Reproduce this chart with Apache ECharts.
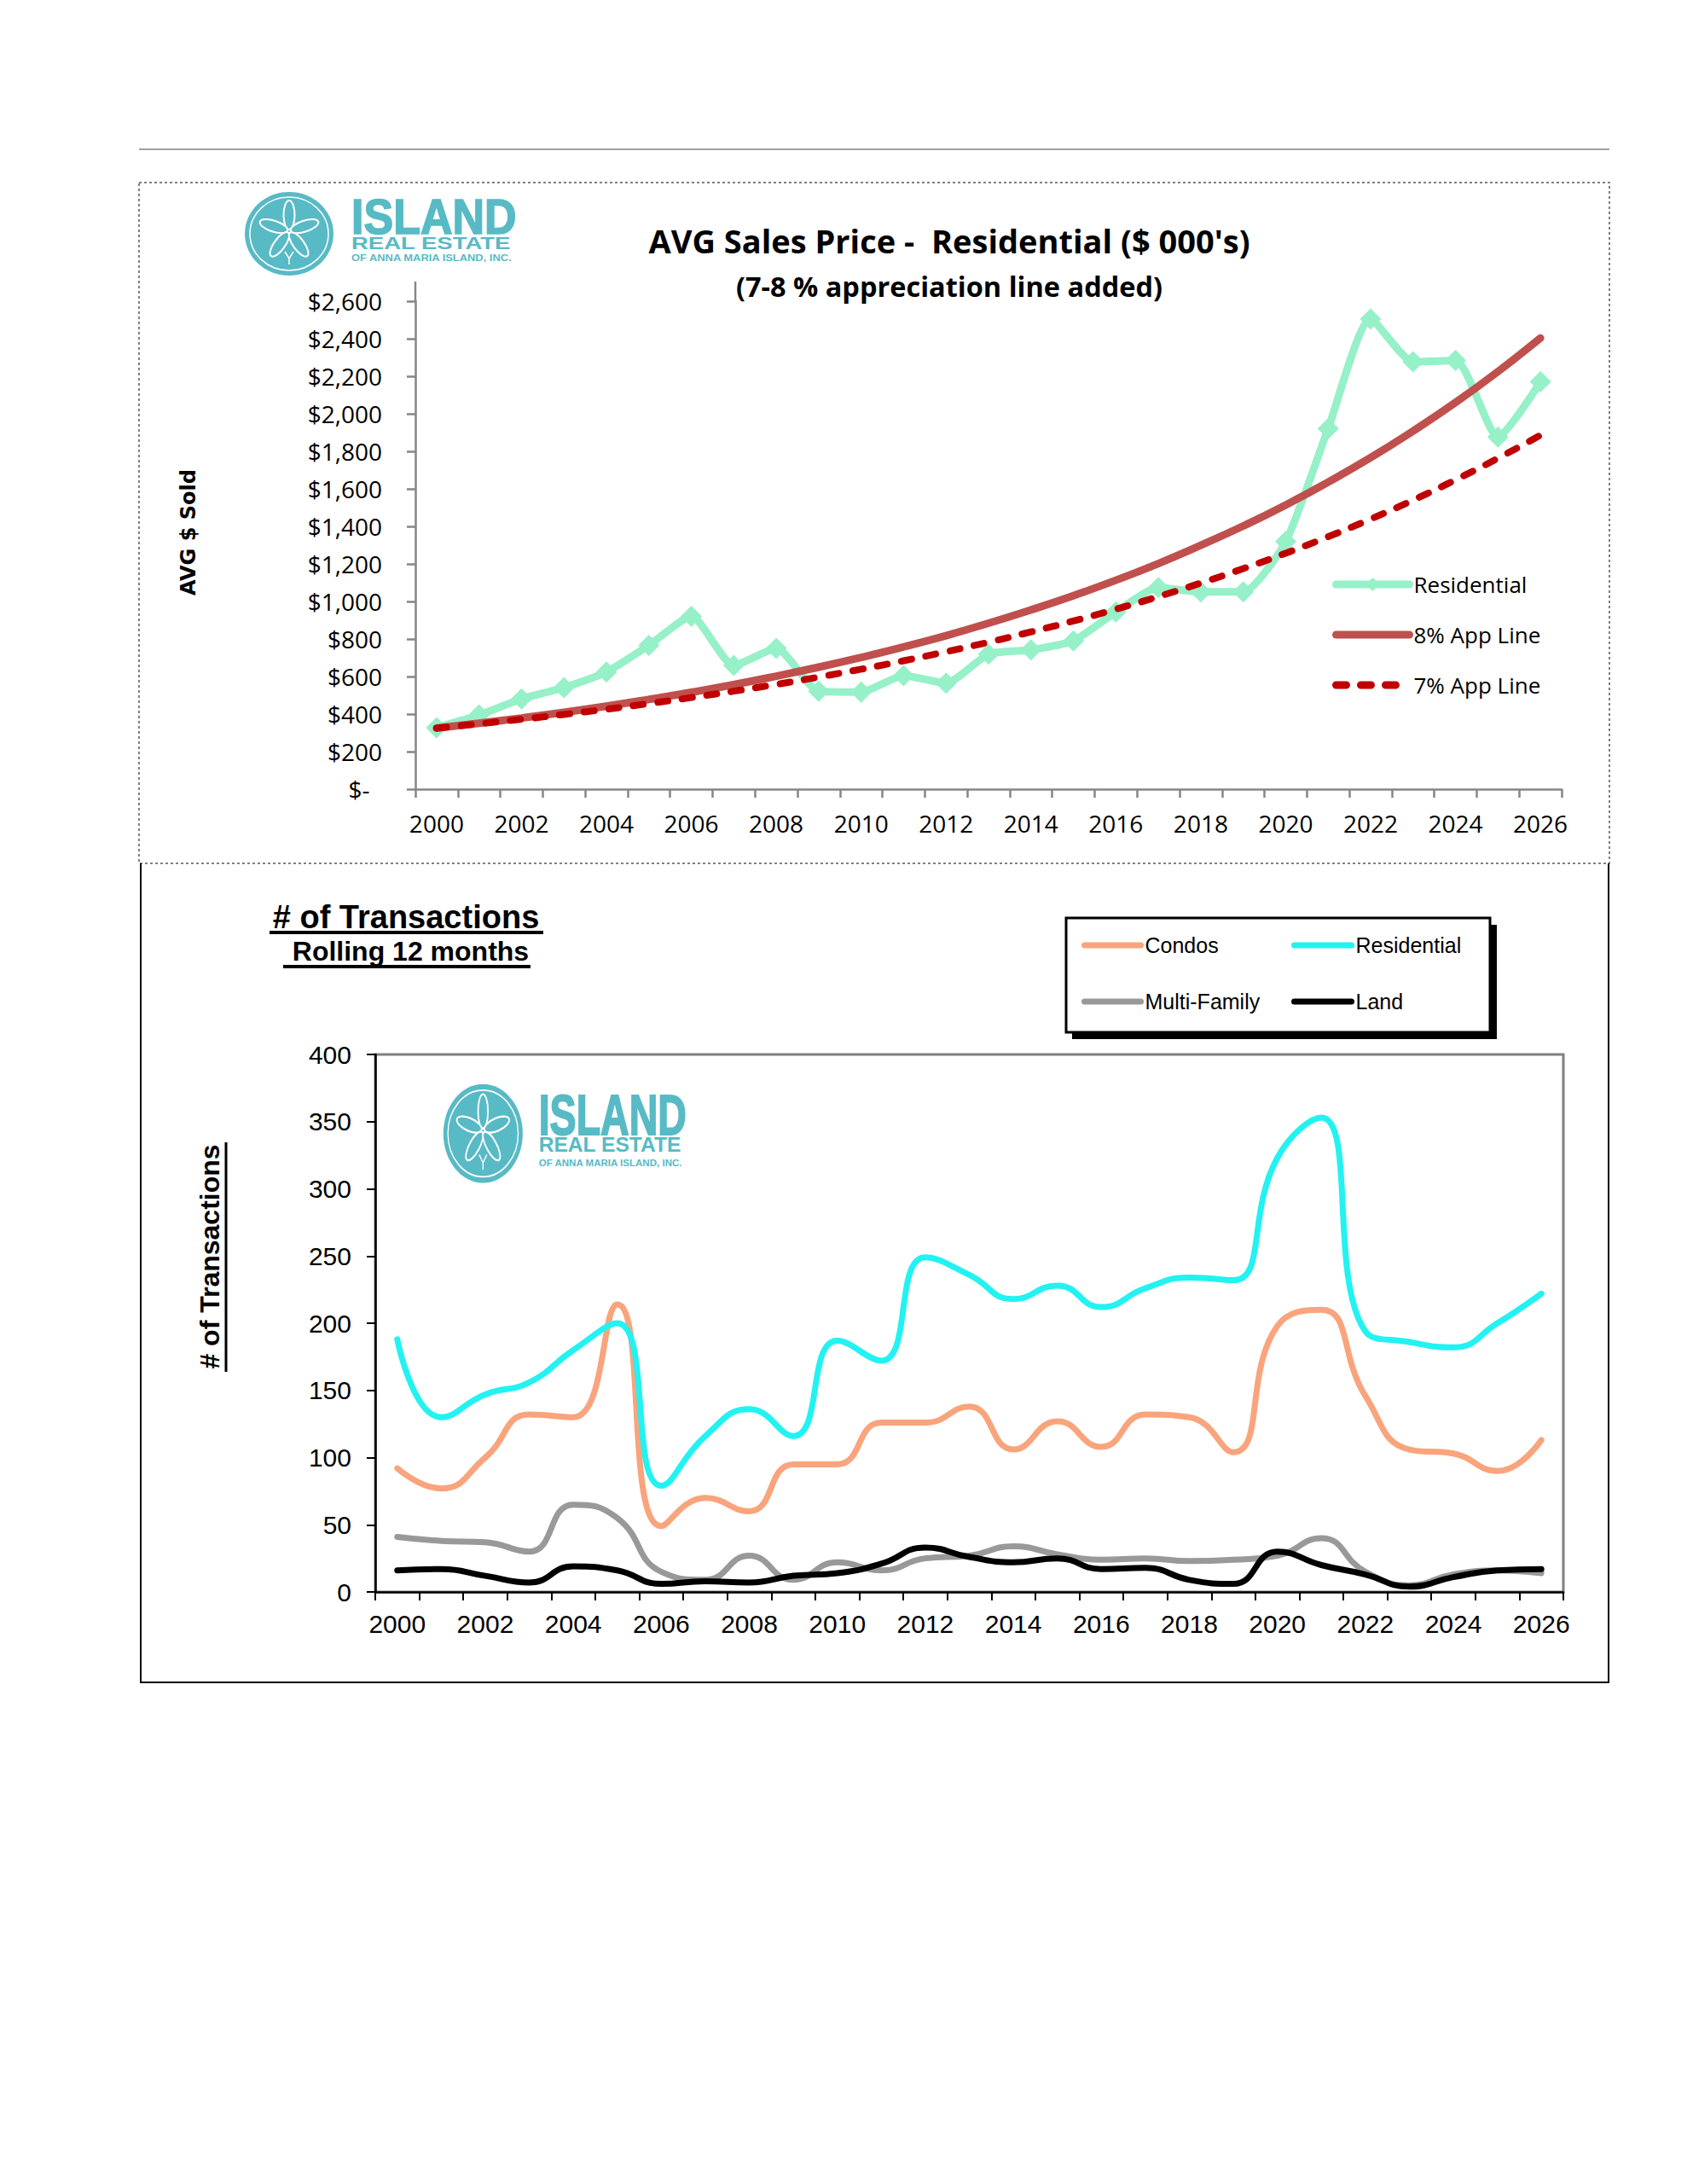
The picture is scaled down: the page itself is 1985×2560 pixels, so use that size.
<!DOCTYPE html>
<html><head><meta charset="utf-8">
<script src="https://cdn.jsdelivr.net/npm/echarts@6/dist/echarts.min.js"></script>
<style>html,body{margin:0;padding:0;background:#fff}#chart{width:1985px;height:2560px}</style>
</head><body><div id="chart"></div><script>
// ---- data ----
const years = ['2000','2001','2002','2003','2004','2005','2006','2007','2008','2009','2010','2011','2012','2013','2014','2015','2016','2017','2018','2019','2020','2021','2022','2023','2024','2025','2026'];
const avgResidential = [327,395,481,541,624,766,920,659,750,522,517,605,565,719,742,790,944,1074,1051,1051,1319,1921,2505,2277,2284,1876,2170];
const app8 = [325,351,379,409,442,478,516,557,602,650,702,758,818,884,955,1031,1113,1202,1299,1402,1514,1636,1766,1908,2060,2225,2403];
const app7 = [325,348,372,398,426,456,488,522,558,597,639,684,732,783,838,896,959,1026,1098,1175,1257,1345,1439,1540,1648,1763,1886];
const condos = [92,77,100,132,130,214,49,70,60,95,95,126,126,138,106,127,108,132,130,104,198,210,146,106,103,90,113];
const residentialTx = [188,130,147,156,180,200,79,116,136,116,187,172,249,236,218,228,212,226,234,232,323,353,194,186,182,200,222];
const multiFamily = [41,38,37,30,65,55,15,9,27,9,22,16,25,27,34,28,24,25,23,24,27,40,15,5,13,16,14];
const land = [16,17,12,7,19,16,6,8,7,12,14,21,33,26,22,25,17,18,9,6,30,20,13,4,11,16,17];

const TEAL = '#58BAC5';
const MINT = '#96F0C8';
const GRAYAX = '#868686';

function logo(x, y, sx, sy) {
  const petals = [];
  for (let k = 0; k < 5; k++) {
    petals.push({type:'ellipse', rotation: k * Math.PI * 2 / 5,
      shape:{cx:0, cy:-19, rx:6.5, ry:17}, style:{fill:TEAL, stroke:'#fff', lineWidth:2}});
  }
  return {type:'group', x:x, y:y, scaleX:sx, scaleY:sy, children:[
    {type:'ellipse', shape:{cx:54, cy:48, rx:52, ry:49}, style:{fill:TEAL}},
    {type:'ellipse', shape:{cx:54, cy:48, rx:46, ry:43}, style:{fill:TEAL, stroke:'#fff', lineWidth:1.5}},
    {type:'group', x:54, y:45, children: petals},
    {type:'polyline', shape:{points:[[49,69],[54,77],[59,69]]}, style:{stroke:'#fff', lineWidth:1.5, fill:null}},
    {type:'line', shape:{x1:54,y1:77,x2:54,y2:84}, style:{stroke:'#fff', lineWidth:1.5}},
    {type:'text', x:127, y:29, scaleY:1.1, style:{text:'ISLAND', fill:TEAL, fontSize:52, fontWeight:'bold', fontFamily:'Liberation Sans', verticalAlign:'middle', align:'left', stroke:TEAL, lineWidth:1.5}},
    {type:'text', x:127, y:59, scaleX:1.31, style:{text:'REAL ESTATE', fill:TEAL, fontSize:21, fontWeight:'bold', fontFamily:'Liberation Sans', verticalAlign:'middle', align:'left'}},
    {type:'text', x:127, y:77, scaleX:1.29, style:{text:'OF ANNA MARIA ISLAND, INC.', fill:TEAL, fontSize:10, fontWeight:'bold', fontFamily:'Liberation Sans', verticalAlign:'middle', align:'left'}}
  ]};
}

function money(v) {
  if (v === 0) return '$-  ';
  return '$' + String(v).replace(/\B(?=(\d{3})+(?!\d))/g, ',');
}

const chart = echarts.init(document.getElementById('chart'), null, {renderer:'svg', width:1985, height:2560});

const legendBottom = (name, left, top, label, w) => ({
  data:[{name:name, itemStyle:{opacity:0}}], left:left, top:top, padding:0, itemWidth:w, itemHeight:12, selectedMode:false,
  formatter: () => label,
  textStyle:{fontSize:25, fontFamily:'Liberation Sans', color:'#000', lineHeight:28},
  lineStyle:{width:7, cap:'round'}
});

chart.setOption({
  animation:false,
  backgroundColor:'#fff',
  textStyle:{fontFamily:'Open Sans'},
  grid:[
    {left:487, top:353, width:1344, height:572},
    {left:440, top:1236, width:1393, height:630, show:true, borderColor:'#808080', borderWidth:3, backgroundColor:'transparent'}
  ],
  xAxis:[
    {type:'category', gridIndex:0, data:years, boundaryGap:true,
     axisLine:{lineStyle:{color:GRAYAX, width:2.5}},
     axisTick:{show:true, interval:0, length:10, lineStyle:{color:GRAYAX, width:2.5}},
     axisLabel:{interval:1, margin:26, color:'#000', fontSize:28, fontFamily:'Open Sans'},
     splitLine:{show:false}},
    {type:'category', gridIndex:1, data:years, boundaryGap:true,
     axisLine:{lineStyle:{color:'#000', width:2.5}},
     axisTick:{show:true, interval:0, length:10, lineStyle:{color:'#000', width:2}},
     axisLabel:{interval:1, margin:22, color:'#000', fontSize:30, fontFamily:'Liberation Sans'},
     splitLine:{show:false}}
  ],
  yAxis:[
    {type:'value', gridIndex:0, min:0, max:2600, interval:200,
     axisLine:{show:true, lineStyle:{color:GRAYAX, width:2.5}},
     axisTick:{show:true, length:10, lineStyle:{color:GRAYAX, width:2.5}},
     splitLine:{show:false},
     axisLabel:{formatter:money, fontSize:28, margin:39, color:'#000', fontFamily:'Open Sans'}},
    {type:'value', gridIndex:1, min:0, max:400, interval:50,
     axisLine:{show:true, lineStyle:{color:'#000', width:2.5}},
     axisTick:{show:true, length:10, lineStyle:{color:'#000', width:2}},
     splitLine:{show:false},
     axisLabel:{fontSize:30, margin:28, color:'#000', fontFamily:'Liberation Sans'}}
  ],
  legend:[
    {data:['Residential', {name:'8% App Line', itemStyle:{opacity:0}}, {name:'7% App Line', itemStyle:{opacity:0}}],
     orient:'vertical', left:1562, top:670,
     itemWidth:86, itemHeight:20, itemGap:29, padding:0, selectedMode:false,
     textStyle:{fontSize:26, fontFamily:'Open Sans', color:'#000', lineHeight:30},
     lineStyle:{width:9, cap:'round'}},
    legendBottom('Condos', 1268, 1094, 'Condos', 66),
    legendBottom('Residential Transactions', 1514, 1094, 'Residential', 67),
    legendBottom('Multi-Family', 1268, 1160, 'Multi-Family', 66),
    legendBottom('Land', 1514, 1160, 'Land', 67)
  ],
  series:[
    {name:'Residential', type:'line', xAxisIndex:0, yAxisIndex:0, data:avgResidential, smooth:0.2,
     symbol:'diamond', symbolSize:25, lineStyle:{color:MINT, width:9}, itemStyle:{color:MINT}, z:2},
    {name:'8% App Line', type:'line', xAxisIndex:0, yAxisIndex:0, data:app8, smooth:true,
     symbol:'none', lineStyle:{color:'#C0504D', width:9, cap:'round'}, itemStyle:{color:'#C0504D'}, z:3},
    {name:'7% App Line', type:'line', xAxisIndex:0, yAxisIndex:0, data:app7, smooth:true,
     symbol:'none', lineStyle:{color:'#C00000', width:8, type:[12,17], cap:'round'}, itemStyle:{color:'#C00000'}, z:4},
    {name:'Condos', type:'line', xAxisIndex:1, yAxisIndex:1, data:condos, smooth:0.5,
     symbol:'none', lineStyle:{color:'#F9A47C', width:7, cap:'round'}, itemStyle:{color:'#F9A47C'}},
    {name:'Residential Transactions', type:'line', xAxisIndex:1, yAxisIndex:1, data:residentialTx, smooth:0.5,
     symbol:'none', lineStyle:{color:'#22F2F2', width:7, cap:'round'}, itemStyle:{color:'#22F2F2'}},
    {name:'Multi-Family', type:'line', xAxisIndex:1, yAxisIndex:1, data:multiFamily, smooth:0.5,
     symbol:'none', lineStyle:{color:'#999999', width:7, cap:'round'}, itemStyle:{color:'#999999'}},
    {name:'Land', type:'line', xAxisIndex:1, yAxisIndex:1, data:land, smooth:0.5,
     symbol:'none', lineStyle:{color:'#000000', width:7, cap:'round'}, itemStyle:{color:'#000000'}}
  ],
  graphic:[
    {type:'line', shape:{x1:163,y1:175,x2:1887,y2:175}, style:{stroke:'#808080', lineWidth:1.5}},
    {type:'rect', shape:{x:163,y:214,width:1724,height:798}, style:{fill:null, stroke:'#808080', lineWidth:2, lineDash:[3,3]}},
    {type:'polyline', shape:{points:[[165,1012],[165,1972],[1886,1972],[1886,1012]]}, style:{fill:null, stroke:'#000', lineWidth:2}},
    {type:'line', shape:{x1:487,y1:330,x2:487,y2:354}, style:{stroke:GRAYAX, lineWidth:2.5}},
    logo(285, 226, 1, 1),
    logo(518, 1272, 0.895, 1.18),
    {type:'text', x:1113, y:282, style:{text:"AVG Sales Price -  Residential ($ 000's)", fill:'#000', fontSize:38, fontWeight:'bold', fontFamily:'Open Sans', align:'center', verticalAlign:'middle'}},
    {type:'text', x:1113, y:335, style:{text:'(7-8 % appreciation line added)', fill:'#000', fontSize:32.5, fontWeight:'bold', fontFamily:'Open Sans', align:'center', verticalAlign:'middle'}},
    {type:'text', x:221, y:624, rotation:Math.PI/2, style:{text:'AVG $ Sold', fill:'#000', fontSize:24, fontWeight:'bold', fontFamily:'DejaVu Sans', align:'center', verticalAlign:'middle'}},
    {type:'text', x:476, y:1075, style:{text:'# of Transactions', fill:'#000', fontSize:38, fontWeight:'bold', fontFamily:'Liberation Sans', align:'center', verticalAlign:'middle'}},
    {type:'line', shape:{x1:316,y1:1093,x2:637,y2:1093}, style:{stroke:'#000', lineWidth:4}},
    {type:'text', x:477, y:1115, style:{text:' Rolling 12 months', fill:'#000', fontSize:32, fontWeight:'bold', fontFamily:'Liberation Sans', align:'center', verticalAlign:'middle'}},
    {type:'line', shape:{x1:332,y1:1133,x2:622,y2:1133}, style:{stroke:'#000', lineWidth:4}},
    {type:'text', x:246, y:1473, rotation:Math.PI/2, style:{text:'# of Transactions', fill:'#000', fontSize:32, fontWeight:'bold', fontFamily:'Liberation Sans', align:'center', verticalAlign:'middle'}},
    {type:'line', shape:{x1:265,y1:1339,x2:265,y2:1608}, style:{stroke:'#000', lineWidth:3}},
    {type:'rect', z:-1, shape:{x:1257,y:1084,width:498,height:134}, style:{fill:'#000'}},
    {type:'rect', z:-1, shape:{x:1250,y:1076,width:497,height:134}, style:{fill:'#fff', stroke:'#000', lineWidth:3}}
  ]
});
</script></body></html>
